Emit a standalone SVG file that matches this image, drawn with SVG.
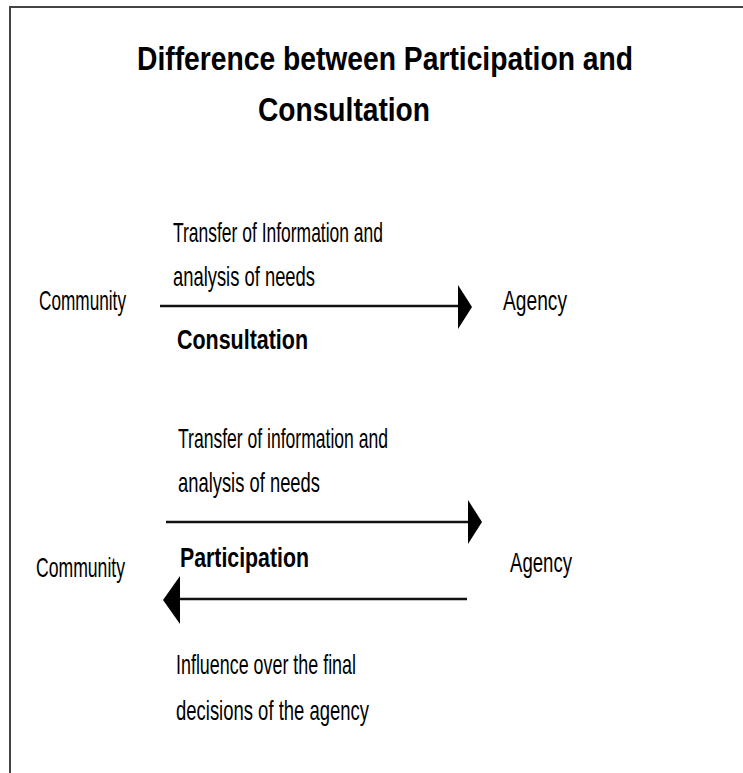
<svg xmlns="http://www.w3.org/2000/svg" width="743" height="773" viewBox="0 0 743 773">
<style>
.t{font-family:"Liberation Sans",Arial,sans-serif;font-size:28px;fill:#000}
.b{font-family:"Liberation Sans",Arial,sans-serif;font-size:28px;font-weight:bold;fill:#000}
.h{font-family:"Liberation Sans",Arial,sans-serif;font-size:34px;font-weight:bold;fill:#000}
.ln{stroke:#111;stroke-width:2.5;fill:none}
.hd{fill:#000}
</style>
<rect width="743" height="773" fill="#fff"/>
<path d="M10,773 V7 H743" fill="none" stroke="#444" stroke-width="2"/>
<g id="title">
<text class="h" x="137" y="70" textLength="496" lengthAdjust="spacingAndGlyphs">Difference between Participation and</text>
<text class="h" x="258" y="121" textLength="172" lengthAdjust="spacingAndGlyphs">Consultation</text>
</g>
<g id="community1"><text class="t" x="39" y="310" textLength="87" lengthAdjust="spacingAndGlyphs">Community</text></g>
<g id="agency1"><text class="t" x="503" y="310" textLength="64" lengthAdjust="spacingAndGlyphs">Agency</text></g>
<g id="consultation-labels">
<text class="t" x="173" y="242" textLength="210" lengthAdjust="spacingAndGlyphs">Transfer of Information and</text>
<text class="t" x="173" y="286" textLength="142" lengthAdjust="spacingAndGlyphs">analysis of needs</text>
<text class="b" x="177" y="349" textLength="131" lengthAdjust="spacingAndGlyphs">Consultation</text>
</g>
<g id="community2"><text class="t" x="36" y="577" textLength="89" lengthAdjust="spacingAndGlyphs">Community</text></g>
<g id="agency2"><text class="t" x="510" y="572" textLength="62" lengthAdjust="spacingAndGlyphs">Agency</text></g>
<g id="participation-labels">
<text class="t" x="178" y="448" textLength="210" lengthAdjust="spacingAndGlyphs">Transfer of information and</text>
<text class="t" x="178" y="492" textLength="142" lengthAdjust="spacingAndGlyphs">analysis of needs</text>
<text class="b" x="180" y="567" textLength="129" lengthAdjust="spacingAndGlyphs">Participation</text>
<text class="t" x="176" y="674" textLength="180" lengthAdjust="spacingAndGlyphs">Influence over the final</text>
<text class="t" x="176" y="720" textLength="193" lengthAdjust="spacingAndGlyphs">decisions of the agency</text>
</g>
<g id="connectors">
<line class="ln" x1="160" y1="306" x2="460" y2="306"/>
<polygon class="hd" points="458,285 472,307 458,329"/>
<line class="ln" x1="166" y1="522" x2="470" y2="522"/>
<polygon class="hd" points="468,500 482,522 468,544"/>
<line class="ln" x1="178" y1="599" x2="467" y2="599"/>
<polygon class="hd" points="180,576 163,600 180,624"/>
</g>
</svg>
